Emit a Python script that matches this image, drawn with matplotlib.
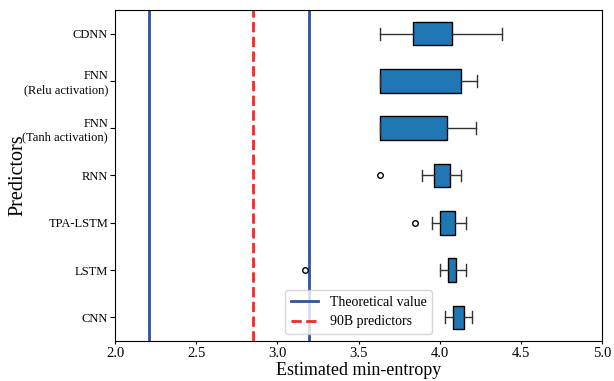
import numpy as np
import matplotlib
matplotlib.use("Agg")
import matplotlib.pyplot as plt

plt.rcParams["font.family"] = ["Liberation Serif", "DejaVu Serif"]
plt.rcParams["mathtext.fontset"] = "stix"

# Predictors, bottom to top.
labels = ["CNN", "LSTM", "TPA-LSTM", "RNN", "FNN\n(Tanh activation)",
          "FNN\n(Relu activation)", "CDNN"]
whislo = [4.033, 4.002, 3.953, 3.893, 3.635, 3.635, 3.635]
q1 = [4.084, 4.051, 4.004, 3.963, 3.635, 3.635, 3.836]
med = [4.12, 4.08, 4.05, 4.01, 3.635, 3.635, 3.95]
q3 = [4.152, 4.103, 4.097, 4.066, 4.045, 4.133, 4.078]
whishi = [4.197, 4.162, 4.162, 4.133, 4.222, 4.228, 4.386]
fliers = [[], [3.17], [3.846], [3.635], [], [], []]

theory = [2.21, 3.195]
b90 = 2.848

stats = []
for i in range(len(labels)):
    stats.append(dict(whislo=whislo[i], q1=q1[i], med=med[i], q3=q3[i],
                      whishi=whishi[i], fliers=fliers[i], label=labels[i]))

fig = plt.figure(figsize=(6.14, 3.81), dpi=100)
ax = fig.add_axes([0.1873, 0.105, 0.7932, 0.8688])

ax.axvline(theory[0], color="#3450a6", lw=2, label="Theoretical value")
ax.axvline(theory[1], color="#3450a6", lw=2)
ax.axvline(b90, color="#ee2a2a", lw=2, ls="--", label="90B predictors")

ax.bxp(stats, positions=np.arange(1, len(labels) + 1), vert=False,
       widths=0.5, patch_artist=True,
       boxprops=dict(facecolor="#1f77b4", edgecolor="black", lw=1),
       medianprops=dict(linewidth=0),
       whiskerprops=dict(color="#333333", lw=1),
       capprops=dict(color="#333333", lw=1),
       flierprops=dict(marker="o", markerfacecolor="none",
                       markeredgecolor="black", markersize=4))

ax.set_xlim(2.0, 5.0)
ax.set_ylim(0.5, 7.5)
ax.set_xticks(np.arange(2.0, 5.01, 0.5))
ax.tick_params(axis="x", labelsize=10.5, length=2.5, pad=2)
ax.tick_params(axis="y", labelsize=9, pad=1.5)
ax.set_xlabel("Estimated min-entropy", fontsize=13)
ax.set_ylabel("Predictors", fontsize=14.5)
ax.xaxis.set_label_coords(0.5, -0.063)
ax.yaxis.set_label_coords(-0.18, 0.5)
ax.legend(loc="lower center", fontsize=10)

plt.savefig("out.png", dpi=100)
